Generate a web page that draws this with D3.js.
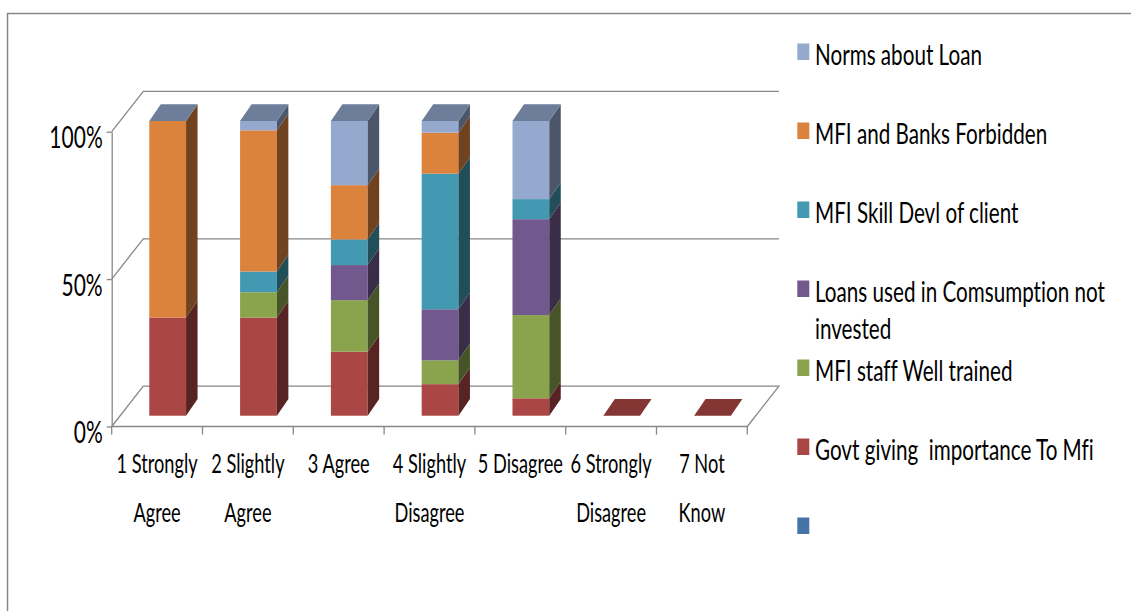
<!DOCTYPE html>
<html>
<head>
<meta charset="utf-8">
<script src="https://cdn.jsdelivr.net/npm/d3@7"></script>
<style>
  html, body { margin: 0; padding: 0; background: #fff; }
  svg { display: block; font-family: Lato, "Open Sans", "Liberation Sans", sans-serif; font-variant-ligatures: none; }
</style>
</head>
<body>
<svg id="chart" width="1131" height="611"></svg>
<script>
// ---- data ----
const categories = [
  "1 Strongly Agree", "2 Slightly Agree", "3 Agree", "4 Slightly Disagree",
  "5 Disagree", "6 Strongly Disagree", "7 Not Know"
];

// series listed bottom of stack first
const seriesNames = [
  "",
  "Govt giving  importance To Mfi",
  "MFI staff Well trained",
  "Loans used in Comsumption not invested",
  "MFI Skill Devl of client",
  "MFI and Banks Forbidden",
  "Norms about Loan"
];

const blankValues  = [null, null, null, null, null, null, null];
const govtValues   = [33.3, 33.3, 21.7, 10.7, 5.9, 0, 0];
const staffValues  = [0, 8.6, 17.5, 8.1, 28.2, null, null];
const loansValues  = [0, 0, 11.9, 17.3, 32.5, null, null];
const skillValues  = [0, 7.0, 8.7, 46.0, 6.8, null, null];
const banksValues  = [66.7, 47.9, 18.4, 13.9, 0, null, null];
const normsValues  = [0, 3.2, 21.8, 4.0, 26.5, null, null];

const seriesValues = [blankValues, govtValues, staffValues, loansValues, skillValues, banksValues, normsValues];
const seriesColors = ["#4572a7", "#aa4644", "#8aa44e", "#71598d", "#4399b1", "#db823d", "#95a9cf"];

const valueTicks = [0, 0.5, 1];

// ---- layout ----
const svg = d3.select("#chart");
const K = 0.70;                 // horizontal squeeze applied to all text
const lineColor = "#878787";

const floorFrontY = 426.5;
const wallDepth = { dx: 31.6, dy: -40.3 };   // floor / wall depth vector
const barDepth  = { dx: 11.5, dy: -16.7 };   // depth of each column
const barFrontAt = 0.268;                    // column front plane, fraction of floor depth

const x = d3.scaleBand().domain(categories).range([111.7, 747.3]).padding(0);
const y = d3.scaleLinear().domain([0, 1]).range([floorFrontY, 131.7]);

const shade = (c, f) => { const r = d3.rgb(c); return d3.rgb(r.r * f, r.g * f, r.b * f).formatHex(); };

// text helper: position + horizontal squeeze
function placeText(sel, tx, ty) {
  sel.attr("x", 0).attr("y", 0).attr("transform", `translate(${tx},${ty}) scale(${K},1)`);
}

// chart area border
svg.append("rect")
  .attr("x", 7.5).attr("y", 13.5).attr("width", 1140).attr("height", 620)
  .attr("fill", "none").attr("stroke", lineColor).attr("stroke-width", 1.5);

const walls = svg.append("g").attr("fill", "none").attr("stroke", lineColor).attr("stroke-width", 1.3);
const x0 = x.range()[0], x1 = x.range()[1];

// floor outline
walls.append("path").attr("d", d3.line()([
  [x0, y(0)], [x1, y(0)], [x1 + wallDepth.dx, y(0) + wallDepth.dy],
  [x0 + wallDepth.dx, y(0) + wallDepth.dy], [x0, y(0)]
]));

// gridlines: side wall diagonal + back wall horizontal
valueTicks.filter(v => v > 0).forEach(v => {
  walls.append("path").attr("d", d3.line()([
    [x0, y(v)], [x0 + wallDepth.dx, y(v) + wallDepth.dy], [x1 + wallDepth.dx, y(v) + wallDepth.dy]
  ]));
});

// value axis
const yAxis = svg.append("g")
  .attr("transform", `translate(${x0},0)`)
  .call(d3.axisLeft(y).tickValues(valueTicks).tickFormat(d3.format(".0%")).tickSize(5).tickSizeOuter(0));
yAxis.select(".domain").attr("stroke", lineColor).attr("stroke-width", 1.3);
yAxis.selectAll(".tick line").attr("stroke", lineColor).attr("stroke-width", 1.3);
yAxis.attr("font-size", null).attr("font-family", null);
yAxis.selectAll(".tick text")
  .attr("fill", "#000").attr("font-size", 30).attr("dy", null)
  .each(function () { placeText(d3.select(this), -9, 16); });

// category ticks at band boundaries
const boundaries = categories.map(c => x(c)).concat([x1]);
svg.append("g").selectAll("line").data(boundaries).join("line")
  .attr("x1", d => d).attr("x2", d => d)
  .attr("y1", floorFrontY).attr("y2", floorFrontY + 8)
  .attr("stroke", lineColor).attr("stroke-width", 1.3);

// category labels (wrapped to the band width)
function wrapLines(textSel, words, maxW) {
  const lines = [];
  let cur = [];
  words.forEach(w => {
    const trial = cur.concat([w]).join(" ");
    textSel.text(trial);
    if (cur.length && textSel.node().getComputedTextLength() * K > maxW) {
      lines.push(cur.join(" "));
      cur = [w];
    } else cur.push(w);
  });
  if (cur.length) lines.push(cur.join(" "));
  return lines;
}

const catLabels = svg.append("g").attr("font-size", 26).attr("fill", "#000").attr("text-anchor", "middle");
categories.forEach(c => {
  const probe = catLabels.append("text");
  const lines = wrapLines(probe, c.split(" "), x.bandwidth() - 4);
  probe.remove();
  lines.forEach((ln, i) => {
    catLabels.append("text").text(ln)
      .call(s => placeText(s, x(c) + x.bandwidth() / 2, 473.3 + i * 48.4));
  });
});

// ---- stacked 3D columns ----
const rows = categories.map((c, i) => ({ cat: c, vals: seriesValues.map(s => s[i]) }));
const stack = d3.stack()
  .keys(d3.range(seriesNames.length))
  .value((d, k) => d.vals[k] ?? 0)
  .offset(d3.stackOffsetExpand);
const stacked = stack(rows);

const shiftX = wallDepth.dx * barFrontAt;
const shiftY = wallDepth.dy * barFrontAt;
const barW = x.bandwidth() * 0.405;
const barInset = x.bandwidth() * 0.414 - shiftX;

const bars = svg.append("g");
rows.forEach((row, i) => {
  const bx = x(row.cat) + barInset + shiftX;
  const g = bars.append("g");
  stacked.forEach((layer, k) => {
    const [v0, v1] = layer[i];
    if (!(v1 > v0)) return;
    const yb = y(v0) + shiftY, yt = y(v1) + shiftY;
    const col = seriesColors[k];
    g.append("rect")
      .attr("x", bx).attr("y", yt).attr("width", barW).attr("height", yb - yt)
      .attr("fill", col);
    g.append("path")
      .attr("d", d3.line()([
        [bx + barW, yb], [bx + barW + barDepth.dx, yb + barDepth.dy],
        [bx + barW + barDepth.dx, yt + barDepth.dy], [bx + barW, yt]
      ]) + "Z")
      .attr("fill", shade(col, 0.51));
  });
  // lid takes the colour of the last series that has a value in this column
  const lastK = d3.max(d3.range(seriesNames.length).filter(k => row.vals[k] !== null));
  const top = y(stacked[lastK][i][1]) + shiftY;
  g.append("path")
    .attr("d", d3.line()([
      [bx, top], [bx + barW, top], [bx + barW + barDepth.dx, top + barDepth.dy],
      [bx + barDepth.dx, top + barDepth.dy]
    ]) + "Z")
    .attr("fill", shade(seriesColors[lastK], lastK === seriesNames.length - 1 ? 0.74 : 0.77));
});

// ---- legend (top series first) ----
const legend = svg.append("g").attr("font-size", 29.5).attr("fill", "#000");
const legendOrder = d3.range(seriesNames.length).reverse();
legendOrder.forEach((k, i) => {
  const top = 43.5 + i * 79;
  legend.append("rect")
    .attr("x", 797.3).attr("y", top).attr("width", 12).attr("height", 16.5)
    .attr("fill", seriesColors[k]);
  if (!seriesNames[k]) return;
  const probe = legend.append("text").style("white-space", "pre");
  const lines = wrapLines(probe, seriesNames[k].split(" "), 1131 - 815 - 8);
  probe.remove();
  lines.forEach((ln, j) => {
    legend.append("text").style("white-space", "pre").text(ln)
      .call(s => placeText(s, 815, top + 21.5 + j * 36.5));
  });
});
</script>
</body>
</html>
